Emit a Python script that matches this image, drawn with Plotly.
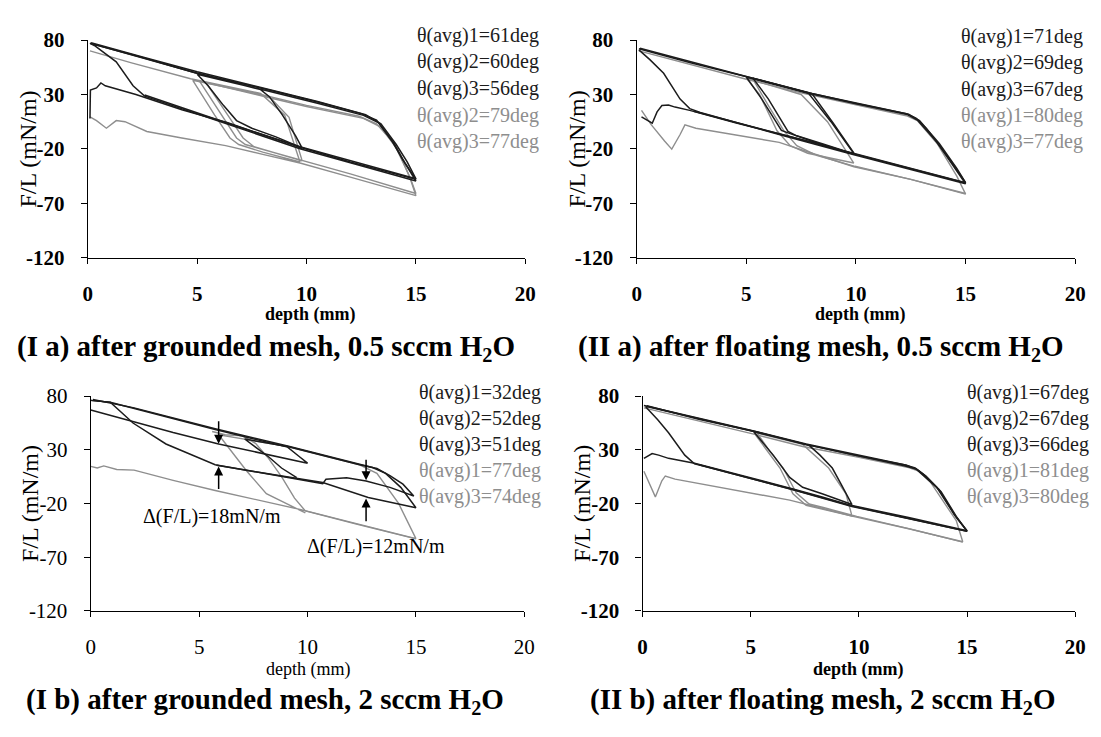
import plotly.graph_objects as go

W, H = 1101, 737
DARK = "#1c1c1c"
GRAY = "#8e8e8e"

# ---------------- data (depth in mm, F/L in mN/m) ----------------
x_ticks = [0, 5, 10, 15, 20]
y_ticks = [80, 30, -20, -70, -120]

# Panel I a
ia_d1_x = [0.1, 0.12, 0.4, 0.6, 0.8, 1.3, 2.2, 4.3, 6.4, 8.0, 9.7, 12.0, 15.0, 14.4, 13.9, 13.2, 12.5, 10.5, 8.1, 4.9, 2.5, 0.1]
ia_d1_y = [8, 34, 36, 40.6, 38, 35, 30, 16, 4, -7, -18.5, -32, -48, -30, -12.7, 6.5, 12.4, 23, 35, 50, 64, 77]
ia_d2_x = [0.1, 0.3, 1.3, 2.07, 2.6, 6.4, 9.7, 15.0, 14.5, 14.0, 13.3, 12.6, 10.5, 8.1, 5.0, 5.5, 6.2, 6.8, 7.5, 8.6, 9.8, 9.5, 8.9, 8.3, 7.9, 5.0, 0.2]
ia_d2_y = [77, 75, 60, 38, 28.5, 2.8, -19.8, -49.5, -33, -15, 4, 10.8, 22, 33.8, 48.6, 38, 20, 6, -1, -9, -19.2, -8, 11, 28, 34.5, 49.5, 76.5]
ia_d3_x = [2.6, 6.4, 9.7, 15.0, 14.6, 14.1, 13.4, 12.7, 10.5, 8.1, 5.0, 2.5, 0.15]
ia_d3_y = [29.5, 3.5, -18, -47.5, -32, -16, 3, 11.5, 23.5, 35.5, 50.8, 64.5, 77.5]
ia_g2_x = [0.1, 0.4, 0.85, 1.3, 1.7, 2.7, 4.3, 6.3, 8.0, 9.7, 12.0, 15.0, 14.7, 14.0, 13.2, 12.4, 10.0, 7.9, 4.8, 5.8, 6.5, 6.9, 8.0, 9.7, 9.0, 7.9, 4.7, 2.0, 0.1]
ia_g2_y = [9.5, 6, -1, 6, 5, -4, -10, -17, -25, -33, -46, -63, -45, -15, 3, 10, 20, 30, 43, 11, -10, -16, -23, -32, 11, 31, 44.5, 59, 70]
ia_g3_x = [5.1, 6.1, 6.8, 7.2, 9.7, 12.0, 15.0, 14.8, 14.2, 13.4, 12.6, 10.0, 8.3, 5.4, 6.4, 7.1, 7.6, 9.8, 9.2, 8.3, 7.6]
ia_g3_y = [42.5, 11, -10, -16, -30, -43, -61, -50, -22, 0, 8, 19, 27, 41, 11, -10, -18, -31, 9, 28, 31]

# Panel II a
iia_d1_x = [0.22, 0.71, 0.93, 1.15, 1.45, 1.75, 2.42, 4.5, 6.62, 8.3, 9.91, 12.5, 15.0, 14.5, 14.0, 13.65, 13.2, 12.75, 12.3, 10.0, 7.81, 4.97, 2.5, 0.1]
iia_d1_y = [9.5, 3.6, 14, 19.8, 20.4, 18.4, 15.4, 4, -6.8, -15.5, -24.6, -38, -51.3, -36, -22, -12.7, -1, 8, 12.4, 22, 31.7, 46.5, 59, 72]
iia_d2_x = [0.1, 0.6, 1.23, 1.98, 2.42, 2.9, 6.62, 9.91, 15.0, 14.5, 13.7, 12.8, 12.35, 10.0, 7.81, 5.0, 5.7, 6.6, 7.0, 8.3, 9.91, 8.86, 7.81, 5.0, 0.15]
iia_d2_y = [71, 62, 49.5, 25.8, 17, 13.5, -7.5, -25.3, -52, -37, -14, 6.5, 11.5, 21.5, 31, 46, 26, -3, -6, -15, -24.6, 5, 31.7, 46.5, 72.5]
iia_d3_x = [2.6, 6.7, 10.0, 15.0, 14.6, 13.8, 12.9, 12.4, 9.95, 8.0, 5.3, 6.0, 6.9, 7.3, 8.5, 9.95, 8.95, 8.0, 5.3]
iia_d3_y = [14.5, -7, -25, -51, -38, -15, 6, 11.8, 22, 31, 45, 26, -4, -8, -15.5, -25, 4, 30.5, 45]
iia_g1_x = [0.22, 0.67, 1.27, 1.6, 1.98, 2.2, 2.7, 4.5, 6.5, 8.0, 9.91, 12.5, 15.0, 14.6, 13.7, 12.8, 12.3, 10.0, 7.6, 5.0, 2.5, 0.1]
iia_g1_y = [15.4, 2, -12.7, -20.2, -6.8, 2, -1, -7, -14, -24, -36.4, -48, -61.6, -45, -15, 6, 10.5, 20.5, 31, 44, 57, 70]
iia_g3_x = [5.0, 5.6, 6.4, 7.0, 7.8, 9.9, 8.7, 7.5, 5.0, 5.3, 6.0, 6.7, 7.3, 8.2, 9.95, 12.5, 15.0]
iia_g3_y = [45, 30, -3.4, -17, -24, -33, 5, 30, 45, 44, 20, -3, -17, -26, -36, -48, -61]

# Panel I b
ib_d1_x = [0, 1.65, 3.8, 5.9, 8.0, 10.0, 9.6, 9.08, 5.74, 0.9, 0]
ib_d1_y = [67, 57.8, 46, 35.4, 26, 17.5, 24, 32.5, 48.9, 74.3, 76]
ib_d2_x = [0, 0.9, 1.95, 3.47, 5.74, 8.2, 10.7, 10.85, 11.8, 12.7, 13.8, 14.9, 14.4, 13.8, 13.2, 12.4, 9.08, 7.1, 8.2, 8.8, 9.5]
ib_d2_y = [76, 74.3, 54.9, 35.4, 16, 7.5, -1.5, 2.6, 4, 1, -5, -13, -2, 6, 12.5, 16, 33, 40, 23.5, 13, 4]
ib_d3_x = [0.1, 2.0, 5.74, 9.08, 12.4, 13.0, 13.6, 14.3, 15.0, 12.8, 10.7, 8.0, 5.8]
ib_d3_y = [76.8, 69, 49.5, 33.5, 16.5, 13.5, 8, -5, -24, -14.5, -0.5, 8.5, 15.5]
ib_g1_x = [0, 0.3, 0.6, 1.2, 2.0, 3.8, 5.74, 7.7, 9.7, 12.3, 15.0, 14.2, 13.2, 12.4, 9.08, 5.9, 7.2, 8.1, 9.9]
ib_g1_y = [14.5, 13, 15, 11.6, 11, 1.5, -7.9, -16.5, -25.8, -39, -52.7, -20, 8, 16, 33, 44, 10, -10.9, -28.8]
ib_g3_x = [5.6, 6.2, 7.0, 7.6, 8.2, 8.8, 9.4, 9.9, 12.3, 15.0]
ib_g3_y = [47, 44, 43, 36, 22, 5, -15, -27, -39.5, -53]

# Panel II b
iib_d1_x = [0.06, 0.44, 0.74, 1.2, 2.4, 4.7, 6.95, 8.3, 9.68, 12.3, 15.0, 14.4, 13.6, 13.0, 12.6, 12.1, 9.8, 7.56, 5.14, 2.5, 0.06]
iib_d1_y = [22, 26.5, 25, 22, 17.5, 5.5, -6.4, -14, -22, -33, -45.3, -30, -4.9, 7, 13, 16, 25.5, 35.4, 47.4, 59.5, 71.3]
iib_d2_x = [0.14, 0.7, 1.2, 1.95, 2.4, 2.9, 6.95, 9.68, 15.0, 14.5, 13.7, 13.0, 12.65, 12.1, 9.8, 7.56, 5.14, 5.6, 6.04, 6.8, 7.4, 8.3, 9.68, 9.2, 8.77, 8.2, 7.7, 5.14, 0.14]
iib_d2_y = [70, 58, 45.9, 25, 17, 14.5, -7.3, -22.8, -46, -33, -7, 6, 12, 15.2, 25, 34.8, 46.8, 36, 25, 4.2, -4.9, -11, -21, -3, 13, 25, 34, 47, 70.5]
iib_d3_x = [2.6, 6.95, 9.7, 15.0, 14.5, 13.8, 13.1, 12.7, 12.2, 9.8, 7.6, 5.3, 2.6, 0.2]
iib_d3_y = [16, -7, -22.5, -45.8, -32, -9, 5.5, 11.5, 15.5, 25, 34.8, 46.5, 58.5, 71]
iib_g1_x = [0.06, 0.44, 0.59, 0.89, 1.05, 1.5, 3.5, 5.0, 6.8, 8.2, 9.68, 12.3, 14.8, 14.5, 13.3, 12.8, 12.3, 10.0, 7.4, 5.14, 2.5, 0.06]
iib_g1_y = [10, -7.9, -13.9, 1.1, 5.6, 2.6, -4.5, -10, -16.9, -24, -31.8, -43.5, -55.7, -36, 0, 10, 13.5, 23, 33, 44.5, 57, 69]
iib_g3_x = [5.14, 5.8, 6.35, 6.95, 7.56, 8.2, 9.68, 9.4, 8.6, 7.4, 5.3, 5.9, 6.5, 7.1, 7.7, 8.4, 9.9, 12.3, 14.8]
iib_g3_y = [46, 28, 13, -11, -21.7, -24.7, -31.8, -11, 13, 35, 45.5, 28, 13, -10, -20.5, -24, -32, -43.5, -56]

# legend labels
ia_labels = ["θ(avg)1=61deg", "θ(avg)2=60deg", "θ(avg)3=56deg", "θ(avg)2=79deg", "θ(avg)3=77deg"]
iia_labels = ["θ(avg)1=71deg", "θ(avg)2=69deg", "θ(avg)3=67deg", "θ(avg)1=80deg", "θ(avg)3=77deg"]
ib_labels = ["θ(avg)1=32deg", "θ(avg)2=52deg", "θ(avg)3=51deg", "θ(avg)1=77deg", "θ(avg)3=74deg"]
iib_labels = ["θ(avg)1=67deg", "θ(avg)2=67deg", "θ(avg)3=66deg", "θ(avg)1=81deg", "θ(avg)3=80deg"]
label_colors = [DARK, DARK, DARK, GRAY, GRAY]

captions = [
    "(I a) after grounded mesh, 0.5 sccm H<sub>2</sub>O",
    "(II a) after floating mesh, 0.5 sccm H<sub>2</sub>O",
    "(I b) after grounded mesh, 2 sccm H<sub>2</sub>O",
    "(II b) after floating mesh, 2 sccm H<sub>2</sub>O",
]

# Δ(F/L) arrows in panel I b: (x, y_tail, y_head)
arrow_x = [5.9, 5.9, 12.7, 12.7]
arrow_tail = [58, -8, 22, -38]
arrow_head = [35.5, 14.5, 1.5, -15.5]
delta_texts = ["Δ(F/L)=18mN/m", "Δ(F/L)=12mN/m"]

# ---------------- layout helpers ----------------
def fx(p):
    return p / W

def fy(p):
    return 1 - p / H

SERIF = "Liberation Serif, Times New Roman, Times, serif"

panels = [
    dict(ax="", dx=(84, 528), dy=(29, 254), bold=True, legx=416, rows=[24, 51, 79, 107, 134],
         gray=[(ia_g2_x, ia_g2_y), (ia_g3_x, ia_g3_y)],
         dark=[(ia_d1_x, ia_d1_y), (ia_d2_x, ia_d2_y), (ia_d3_x, ia_d3_y)],
         labels=ia_labels, cap=(265, 347), xt=(310, 313), xstand=12),
    dict(ax="2", dx=(641, 1086), dy=(29, 254), bold=True, legx=968, rows=[25, 52, 80, 107, 134],
         gray=[(iia_g1_x, iia_g1_y), (iia_g3_x, iia_g3_y)],
         dark=[(iia_d1_x, iia_d1_y), (iia_d2_x, iia_d2_y), (iia_d3_x, iia_d3_y)],
         labels=iia_labels, cap=(828, 347), xt=(868, 313), xstand=12),
    dict(ax="3", dx=(87, 527), dy=(397, 619), bold=False, legx=418, rows=[393, 420, 447, 474, 501],
         gray=[(ib_g1_x, ib_g1_y), (ib_g3_x, ib_g3_y)],
         dark=[(ib_d1_x, ib_d1_y), (ib_d2_x, ib_d2_y), (ib_d3_x, ib_d3_y)],
         labels=ib_labels, cap=(264, 712), xt=(307, 680), xstand=12),
    dict(ax="4", dx=(647, 1086), dy=(397, 619), bold=True, legx=974, rows=[393, 420, 447, 474, 501],
         gray=[(iib_g1_x, iib_g1_y), (iib_g3_x, iib_g3_y)],
         dark=[(iib_d1_x, iib_d1_y), (iib_d2_x, iib_d2_y), (iib_d3_x, iib_d3_y)],
         labels=iib_labels, cap=(830, 712), xt=(866, 680), xstand=12),
]

fig = go.Figure()
annotations = []
layout_axes = {}

for p in panels:
    a = p["ax"]
    xref = "x" + a
    yref = "y" + a
    for (xs, ys) in p["gray"]:
        fig.add_trace(go.Scatter(x=xs, y=ys, mode="lines", xaxis=xref, yaxis=yref,
                                 line=dict(color=GRAY, width=1.4), showlegend=False, hoverinfo="skip"))
    for (xs, ys) in p["dark"]:
        fig.add_trace(go.Scatter(x=xs, y=ys, mode="lines", xaxis=xref, yaxis=yref,
                                 line=dict(color=DARK, width=1.5), showlegend=False, hoverinfo="skip"))
    tf = dict(family=SERIF, size=21, color="black", weight="bold" if p["bold"] else "normal")
    layout_axes["xaxis" + a] = dict(
        domain=[fx(p["dx"][0]), fx(p["dx"][1])], anchor=yref, range=[0, 20],
        tickmode="array", tickvals=x_ticks, ticktext=[str(v) for v in x_ticks],
        showline=True, linecolor="black", linewidth=1.3, ticks="outside", ticklen=5,
        tickcolor="black", tickwidth=1.3, showgrid=False, zeroline=False,
        tickfont=tf, ticklabelstandoff=p["xstand"], fixedrange=True)
    layout_axes["yaxis" + a] = dict(
        domain=[fy(p["dy"][1]), fy(p["dy"][0])], anchor=xref, range=[-120, 80],
        tickmode="array", tickvals=y_ticks, ticktext=[str(v) for v in y_ticks],
        showline=True, linecolor="black", linewidth=1.3, ticks="outside", ticklen=6,
        tickcolor="black", tickwidth=1.3, showgrid=False, zeroline=False,
        tickfont=tf, ticklabelstandoff=12, fixedrange=True)
    # legend texts
    for lab, col, ry in zip(p["labels"], label_colors, p["rows"]):
        annotations.append(dict(text=lab, x=fx(p["legx"]), y=fy(ry), xref="paper", yref="paper",
                                xanchor="left", yanchor="middle", showarrow=False,
                                font=dict(family=SERIF, size=20, color=col)))
    # y title
    annotations.append(dict(text="F/L (mN/m)", x=fx(p["dx"][0] - 61), y=fy((p["dy"][0] + p["dy"][1]) / 2),
                            xref="paper", yref="paper", textangle=-90, showarrow=False,
                            xanchor="center", yanchor="middle",
                            font=dict(family=SERIF, size=24, color="black")))
    # x title
    annotations.append(dict(text="depth (mm)", x=fx(p["xt"][0]), y=fy(p["xt"][1]),
                            xref="paper", yref="paper", showarrow=False,
                            xanchor="center", yanchor="middle",
                            font=dict(family=SERIF, size=18, color="black",
                                      weight="bold" if p["bold"] else "normal")))

for cap, p in zip(captions, panels):
    annotations.append(dict(text=cap, x=fx(p["cap"][0]), y=fy(p["cap"][1]), xref="paper", yref="paper",
                            showarrow=False, xanchor="center", yanchor="middle",
                            font=dict(family=SERIF, size=29, color="black", weight="bold")))

# arrows in panel I b
for xa, yt, yh in zip(arrow_x, arrow_tail, arrow_head):
    annotations.append(dict(x=xa, y=yh, ax=xa, ay=yt, xref="x3", yref="y3", axref="x3", ayref="y3",
                            text="", showarrow=True, arrowhead=2, arrowsize=1.2, arrowwidth=1.5,
                            arrowcolor="black"))
annotations.append(dict(text=delta_texts[0], x=fx(210), y=fy(521), xref="paper", yref="paper",
                        showarrow=False, xanchor="center", yanchor="middle",
                        font=dict(family=SERIF, size=20, color="black")))
annotations.append(dict(text=delta_texts[1], x=fx(376), y=fy(553), xref="paper", yref="paper",
                        showarrow=False, xanchor="center", yanchor="middle",
                        font=dict(family=SERIF, size=20, color="black")))

fig.update_layout(
    width=W, height=H, autosize=False,
    margin=dict(l=0, r=0, t=0, b=0),
    paper_bgcolor="white", plot_bgcolor="white",
    showlegend=False,
    annotations=annotations,
    **layout_axes,
)

fig.write_html("out.html")
